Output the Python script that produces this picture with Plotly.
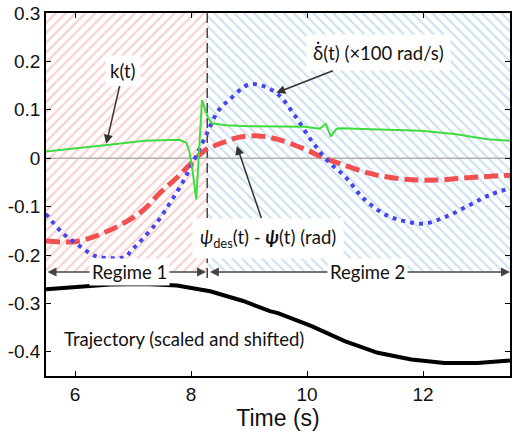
import plotly.graph_objects as go

# ---- data ----
t_k = [5.5, 6.0, 6.55, 7.2, 7.8, 7.92, 7.97, 8.02, 8.09, 8.19, 8.29, 8.36, 8.6, 9.0, 9.5, 9.96,
       10.16, 10.22, 10.32, 10.41, 10.51, 10.6, 11.1, 11.6, 11.96, 12.54, 13.11, 13.5]
k_vals = [0.014, 0.021, 0.0275, 0.036, 0.038, 0.032, 0.015, -0.02, -0.085, 0.12, 0.084, 0.072,
          0.068, 0.066, 0.065, 0.065, 0.062, 0.061, 0.071, 0.045, 0.061, 0.062, 0.060, 0.058,
          0.0565, 0.050, 0.039, 0.036]

t_psi = [5.5, 6.03, 6.5, 6.9, 7.19, 7.47, 7.76, 7.99, 8.27, 8.5, 8.82, 9.16, 9.5, 9.96, 10.3,
         10.59, 11.1, 11.68, 12.25, 12.83, 13.5]
psi_err = [-0.171, -0.172, -0.154, -0.13, -0.106, -0.071, -0.04, -0.012, 0.0186, 0.03, 0.043,
           0.046, 0.039, 0.0186, 0.0, -0.012, -0.032, -0.0435, -0.045, -0.04, -0.035]

t_dd = [5.5, 5.78, 6.04, 6.24, 6.41, 6.87, 6.96, 7.1, 7.41, 7.64, 7.87, 8.07, 8.27, 8.47, 8.7,
        8.99, 9.22, 9.5, 9.79, 10.08, 10.36, 10.65, 10.99, 11.39, 11.68, 12.03, 12.43, 12.83,
        13.17, 13.5]
delta_dot = [-0.115, -0.154, -0.178, -0.195, -0.204, -0.204, -0.192, -0.175, -0.133, -0.092,
             -0.047, 0.0, 0.05, 0.098, 0.125, 0.152, 0.15, 0.132, 0.088, 0.036, -0.006, -0.037,
             -0.085, -0.119, -0.13, -0.135, -0.119, -0.095, -0.075, -0.062]

t_traj = [5.5, 6.03, 6.61, 7.19, 7.76, 8.33, 8.9, 9.36, 9.5, 10.08, 10.65, 11.22, 11.8, 12.37,
          12.94, 13.5]
traj = [-0.271, -0.266, -0.261, -0.26, -0.263, -0.275, -0.295, -0.316, -0.32, -0.347, -0.378,
        -0.402, -0.416, -0.423, -0.423, -0.418]

t_min, t_switch, t_max = 5.5, 8.28, 13.5
hatch_bottom, y_top, y_bottom = -0.233, 0.3, -0.45
regime_y = -0.235
y_ticks = [-0.4, -0.3, -0.2, -0.1, 0, 0.1, 0.2, 0.3]
y_ticktext = ["-0.4", "-0.3", "-0.2", "-0.1", "0", "0.1", "0.2", "0.3"]
x_ticks = [6, 8, 10, 12]

ann_font = dict(family="Lato, Open Sans, sans-serif", size=18.5, color="#111")

fig = go.Figure()

# hatched regime regions
fig.add_trace(go.Scatter(
    x=[t_min, t_switch, t_switch, t_min, t_min],
    y=[hatch_bottom, hatch_bottom, y_top, y_top, hatch_bottom],
    fill="toself", mode="lines", line=dict(width=0),
    fillpattern=dict(shape="/", fgcolor="#f59a9a", bgcolor="white", size=7, solidity=0.28),
    hoverinfo="skip", showlegend=False))
fig.add_trace(go.Scatter(
    x=[t_switch, t_max, t_max, t_switch, t_switch],
    y=[hatch_bottom, hatch_bottom, y_top, y_top, hatch_bottom],
    fill="toself", mode="lines", line=dict(width=0),
    fillpattern=dict(shape="\\", fgcolor="#94bfe2", bgcolor="white", size=7, solidity=0.28),
    hoverinfo="skip", showlegend=False))

# zero line
fig.add_trace(go.Scatter(x=[t_min, t_max], y=[0, 0], mode="lines",
                         line=dict(color="#b0b0b0", width=1.5), showlegend=False))

# regime switch line
fig.add_trace(go.Scatter(x=[t_switch, t_switch], y=[y_top, -0.255], mode="lines",
                         line=dict(color="#444", width=1.5, dash="10px,5px"), showlegend=False))

# curves
fig.add_trace(go.Scatter(x=t_traj, y=traj, mode="lines",
                         line=dict(color="black", width=4), showlegend=False))
fig.add_trace(go.Scatter(x=t_psi, y=psi_err, mode="lines",
                         line=dict(color="#f25050", width=5, dash="14px,6px", shape="spline"),
                         showlegend=False))
fig.add_trace(go.Scatter(x=t_dd, y=delta_dot, mode="lines",
                         line=dict(color="#4646f0", width=4, dash="4px,5px", shape="spline"),
                         showlegend=False))
fig.add_trace(go.Scatter(x=t_k, y=k_vals, mode="lines",
                         line=dict(color="#3fdc3f", width=2), showlegend=False))

annotations = [
    dict(x=6.54, y=0.0296, ax=6.83, ay=0.181, text="k(t)", borderpad=4),
    dict(x=9.47, y=0.135, ax=11.24, ay=0.218, text="δ̇(t) (×100 rad/s)", borderpad=6),
    dict(x=8.79, y=0.0255, ax=9.33, ay=-0.165,
         text="<i>ψ</i><sub>des</sub>(t) - <b><i>ψ</i></b>(t) (rad)", borderpad=7),
]
for a in annotations:
    fig.add_annotation(xref="x", yref="y", axref="x", ayref="y", showarrow=True,
                       arrowhead=2, arrowsize=1.2, arrowwidth=1.5, arrowcolor="#333",
                       bgcolor="white", font=ann_font, **a)

# regime arrows
fig.add_annotation(x=t_switch - 0.02, y=regime_y, ax=t_min, ay=regime_y, xref="x", yref="y",
                   axref="x", ayref="y", text="", showarrow=True, arrowhead=2,
                   arrowside="end+start", arrowsize=1.2, arrowwidth=1.5, arrowcolor="#444")
fig.add_annotation(x=t_max, y=regime_y, ax=t_switch + 0.02, ay=regime_y, xref="x", yref="y",
                   axref="x", ayref="y", text="", showarrow=True, arrowhead=2,
                   arrowside="end+start", arrowsize=1.2, arrowwidth=1.5, arrowcolor="#444")
fig.add_annotation(x=(t_min + t_switch) / 2 + 0.05, y=regime_y, text="Regime 1",
                   showarrow=False, bgcolor="white", font=ann_font, borderpad=2)
fig.add_annotation(x=(t_switch + t_max) / 2 + 0.15, y=regime_y, text="Regime 2",
                   showarrow=False, bgcolor="white", font=ann_font, borderpad=2)
fig.add_annotation(x=7.88, y=-0.373, text="Trajectory (scaled and shifted)", showarrow=False,
                   font=ann_font)

axis_common = dict(showline=True, linecolor="black", linewidth=1.5, mirror="ticks",
                   ticks="inside", ticklen=5, tickcolor="black", showgrid=False,
                   zeroline=False,
                   tickfont=dict(family="Liberation Sans, Arial, sans-serif", size=19,
                                 color="#111"))
fig.update_xaxes(range=[t_min, t_max], tickvals=x_ticks,
                 title=dict(text="Time (s)", font=dict(family="Liberation Sans, Arial",
                                                        size=23, color="#111"), standoff=4),
                 **axis_common)
fig.update_yaxes(range=[y_bottom, y_top], tickvals=y_ticks, ticktext=y_ticktext,
                 **axis_common)

fig.update_layout(width=514, height=433, margin=dict(l=46, r=2, t=13, b=57),
                  plot_bgcolor="white", paper_bgcolor="white", showlegend=False)

fig.write_html("out.html")
